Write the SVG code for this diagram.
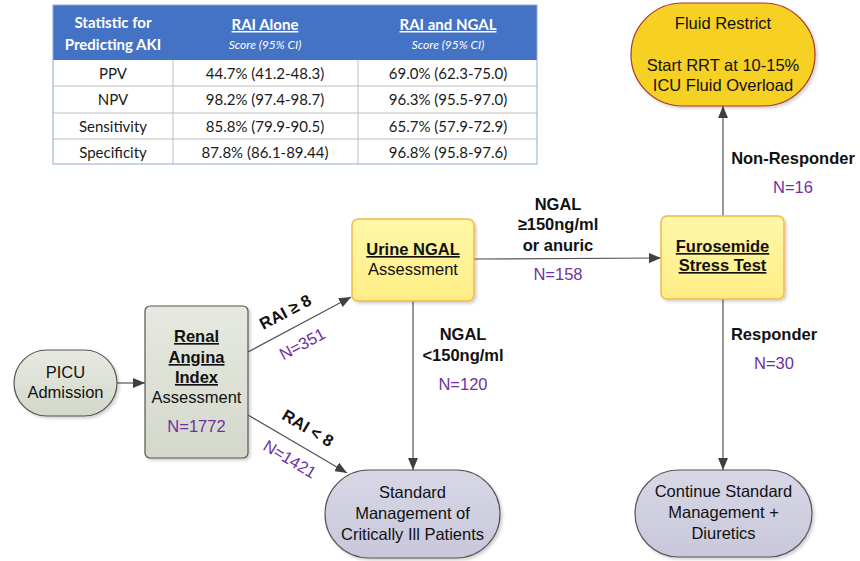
<svg xmlns="http://www.w3.org/2000/svg" width="860" height="561" viewBox="0 0 860 561">
<defs>
<style>
.t{font-family:"Liberation Sans",Arial,sans-serif;font-size:16.5px;fill:#111;text-anchor:middle}
.b{font-weight:bold}
.u{text-decoration:underline}
.n{fill:#7030A0}
.tb{font-family:Lato,"Open Sans",sans-serif;text-anchor:middle;fill:#1a1a1a;font-size:15px}
.th{font-family:Lato,"Open Sans",sans-serif;text-anchor:middle;fill:#fff;font-weight:bold;font-size:15px}
.ts{font-family:Lato,"Open Sans",sans-serif;text-anchor:middle;fill:#fff;font-style:italic;font-size:12px}
.grid{stroke:#BFBFBF;stroke-width:1}
.edge{stroke:#555;stroke-width:1.2;fill:none;marker-end:url(#ah)}
.green{fill:url(#gGreen);stroke:#555;stroke-width:1.2}
.yellow{fill:url(#gYellow);stroke:#F2B84B;stroke-width:1.5}
.lav{fill:url(#gLav);stroke:#555;stroke-width:1.2}
.gold{fill:#F6D020;stroke:#A8382B;stroke-width:1.2}
</style>
<linearGradient id="gGreen" x1="0" y1="0" x2="0" y2="1"><stop offset="0" stop-color="#E6E9E0"/><stop offset="1" stop-color="#D3D8CB"/></linearGradient>
<linearGradient id="gYellow" x1="0" y1="0" x2="0" y2="1"><stop offset="0" stop-color="#FFF7A8"/><stop offset="1" stop-color="#FFEE86"/></linearGradient>
<linearGradient id="gLav" x1="0" y1="0" x2="0" y2="1"><stop offset="0" stop-color="#D8D7E6"/><stop offset="1" stop-color="#C9C8DB"/></linearGradient>
<filter id="sh" x="-10%" y="-10%" width="130%" height="130%"><feDropShadow dx="2" dy="2" stdDeviation="1.5" flood-color="#000" flood-opacity="0.18"/></filter>
<marker id="ah" markerWidth="12" markerHeight="10" refX="12" refY="5" orient="auto" markerUnits="userSpaceOnUse"><path d="M0,0 L12,5 L0,10 Z" fill="#404040"/></marker>
</defs>
<rect width="860" height="561" fill="#fff"/>

<g id="table">
<rect x="53" y="5" width="484" height="55" fill="#4472C4"/>
<rect x="53" y="60" width="484" height="104" fill="#fff"/>
<line class="grid" x1="53" y1="86" x2="537" y2="86"/>
<line class="grid" x1="53" y1="113" x2="537" y2="113"/>
<line class="grid" x1="53" y1="139" x2="537" y2="139"/>
<line class="grid" x1="173" y1="60" x2="173" y2="164"/>
<line class="grid" x1="358" y1="60" x2="358" y2="164"/>
<rect x="53" y="5" width="484" height="159" fill="none" stroke="#8EA9DB" stroke-width="1"/>
<text class="th" x="113" y="28">Statistic for</text>
<text class="th" x="113" y="50">Predicting AKI</text>
<text class="th u" x="265" y="30">RAI Alone</text>
<text class="ts" x="265" y="49">Score (95% CI)</text>
<text class="th u" x="448" y="30">RAI and NGAL</text>
<text class="ts" x="448" y="49">Score (95% CI)</text>
<text class="tb" x="113" y="79">PPV</text>
<text class="tb" x="265" y="79">44.7% (41.2-48.3)</text>
<text class="tb" x="448" y="79">69.0% (62.3-75.0)</text>
<text class="tb" x="113" y="105">NPV</text>
<text class="tb" x="265" y="105">98.2% (97.4-98.7)</text>
<text class="tb" x="448" y="105">96.3% (95.5-97.0)</text>
<text class="tb" x="113" y="132">Sensitivity</text>
<text class="tb" x="265" y="132">85.8% (79.9-90.5)</text>
<text class="tb" x="448" y="132">65.7% (57.9-72.9)</text>
<text class="tb" x="113" y="158">Specificity</text>
<text class="tb" x="265" y="158">87.8% (86.1-89.44)</text>
<text class="tb" x="448" y="158">96.8% (95.8-97.6)</text>
</g>

<g id="connectors">
<line class="edge" x1="117" y1="383" x2="145" y2="383"/>
<line class="edge" x1="248" y1="352" x2="351" y2="297"/>
<line class="edge" x1="248" y1="415" x2="347" y2="473"/>
<line class="edge" x1="413" y1="301" x2="413" y2="470"/>
<line class="edge" x1="474" y1="259" x2="661" y2="258"/>
<line class="edge" x1="723" y1="216" x2="723" y2="106"/>
<line class="edge" x1="723" y1="299" x2="723" y2="470"/>
<text class="t b" transform="translate(288,317) rotate(-28)">RAI ≥ 8</text>
<text class="t n" transform="translate(305,349) rotate(-28)">N=351</text>
<text class="t b" transform="translate(305,433) rotate(31)">RAI &lt; 8</text>
<text class="t n" transform="translate(287,464) rotate(31)">N=1421</text>
<text class="t b" x="558" y="210">NGAL</text>
<text class="t b" x="558" y="230">≥150ng/ml</text>
<text class="t b" x="558" y="251">or anuric</text>
<text class="t n" x="558" y="280">N=158</text>
<text class="t b" x="463" y="340">NGAL</text>
<text class="t b" x="463" y="361">&lt;150ng/ml</text>
<text class="t n" x="463" y="390">N=120</text>
<text class="t b" x="793" y="164">Non-Responder</text>
<text class="t n" x="793" y="193">N=16</text>
<text class="t b" x="774" y="340">Responder</text>
<text class="t n" x="774" y="369">N=30</text>
</g>

<g id="picu">
<rect class="green" x="14" y="350" width="103" height="66" rx="33" filter="url(#sh)"/>
<text class="t" x="65.5" y="378">PICU</text>
<text class="t" x="65.5" y="398">Admission</text>
</g>

<g id="rai">
<rect class="green" x="145" y="306" width="103" height="152" rx="5" filter="url(#sh)"/>
<text class="t b u" x="196.5" y="342">Renal</text>
<text class="t b u" x="196.5" y="363">Angina</text>
<text class="t b u" x="196.5" y="383">Index</text>
<text class="t" x="196.5" y="403">Assessment</text>
<text class="t n" x="196.5" y="432">N=1772</text>
</g>

<g id="ngal">
<rect class="yellow" x="352" y="219" width="122" height="82" rx="6" filter="url(#sh)"/>
<text class="t b u" x="413" y="255">Urine NGAL</text>
<text class="t" x="413" y="275">Assessment</text>
</g>

<g id="fst">
<rect class="yellow" x="661" y="216" width="123" height="83" rx="6" filter="url(#sh)"/>
<text class="t b u" x="722.5" y="252">Furosemide</text>
<text class="t b u" x="722.5" y="271">Stress Test</text>
</g>

<g id="fluid">
<rect class="gold" x="631" y="3" width="184" height="103" rx="51.5" filter="url(#sh)"/>
<text class="t" x="723" y="29">Fluid Restrict</text>
<text class="t" x="723" y="71">Start RRT at 10-15%</text>
<text class="t" x="723" y="91">ICU Fluid Overload</text>
</g>

<g id="standard">
<rect class="lav" x="325" y="470" width="175" height="88" rx="44" filter="url(#sh)"/>
<text class="t" x="412.5" y="498">Standard</text>
<text class="t" x="412.5" y="519">Management of</text>
<text class="t" x="412.5" y="540">Critically Ill Patients</text>
</g>

<g id="continue">
<rect class="lav" x="635" y="470" width="177" height="87" rx="43.5" filter="url(#sh)"/>
<text class="t" x="723.5" y="497">Continue Standard</text>
<text class="t" x="723.5" y="518">Management +</text>
<text class="t" x="723.5" y="539">Diuretics</text>
</g>
</svg>
